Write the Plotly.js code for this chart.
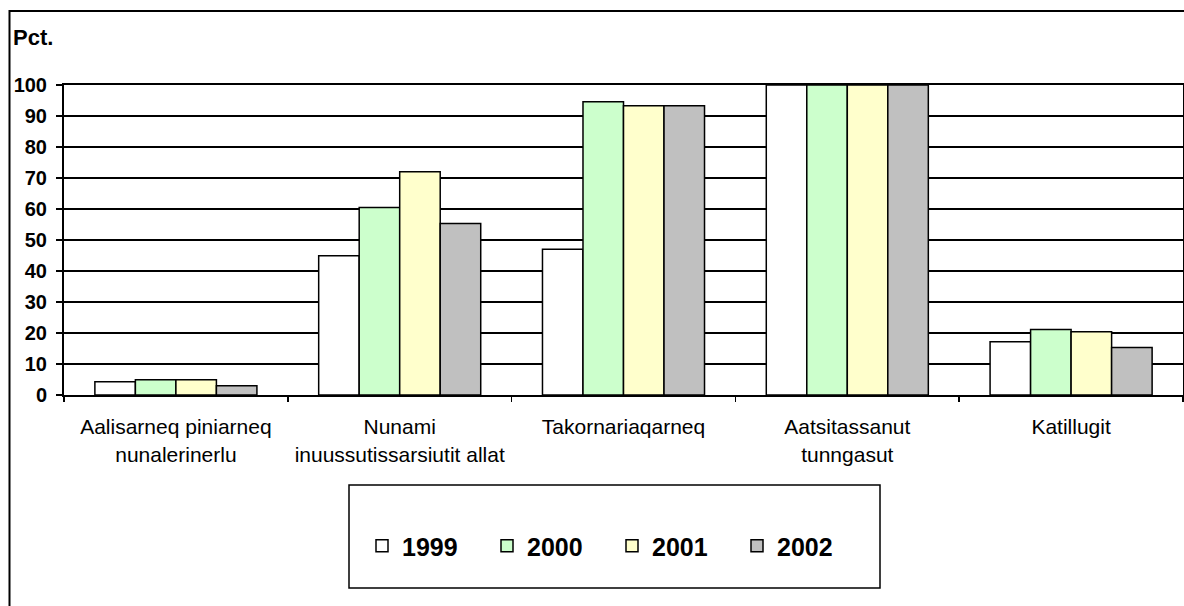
<!DOCTYPE html>
<html>
<head>
<meta charset="utf-8">
<script src="https://cdn.plot.ly/plotly-3.0.1.min.js"></script>
<style>
  html, body { margin: 0; padding: 0; background: #fff; }
  #chart { width: 1184px; height: 606px; }
</style>
</head>
<body>
<div id="chart"></div>
<script>
const categories = [
  "Aalisarneq piniarneq<br>nunalerinerlu",
  "Nunami<br>inuussutissarsiutit allat",
  "Takornariaqarneq",
  "Aatsitassanut<br>tunngasut",
  "Katillugit"
];
const years = ["1999", "2000", "2001", "2002"];
const v1999 = [4.3, 44.9, 47.0, 100, 17.2];
const v2000 = [4.9, 60.5, 94.6, 100, 21.1];
const v2001 = [4.9, 72.0, 93.3, 100, 20.4];
const v2002 = [3.0, 55.3, 93.3, 100, 15.3];
const yTicks = [0, 10, 20, 30, 40, 50, 60, 70, 80, 90, 100];
const colors = ["#FFFFFF", "#CCFFCC", "#FFFFCC", "#C0C0C0"];

const series = [v1999, v2000, v2001, v2002];
const traces = series.map((vals, i) => ({
  type: "bar",
  name: years[i],
  x: categories,
  y: vals,
  marker: { color: colors[i], line: { color: "#000000", width: 1.5 } },
  hoverinfo: "x+y+name"
}));

// plot area geometry in pixels
const L = 64, R = 1183, T = 85, B = 395;
const W = R - L, H = B - T;
const px = x => (x - L) / W;
const py = y => (B - y) / H;

const layout = {
  width: 1184,
  height: 606,
  margin: { l: L, r: 1184 - R, t: T, b: 606 - B, pad: 0 },
  paper_bgcolor: "#FFFFFF",
  plot_bgcolor: "#FFFFFF",
  font: { family: "Liberation Sans, Arial, sans-serif", color: "#000000" },
  barmode: "group",
  bargap: 0.276,
  bargroupgap: 0,
  showlegend: true,
  legend: {
    orientation: "h",
    x: px(362), xanchor: "left",
    y: py(546), yanchor: "middle",
    bgcolor: "rgba(0,0,0,0)",
    borderwidth: 0,
    font: { size: 25, family: "Liberation Sans, Arial, sans-serif", weight: "bold" },
    entrywidth: 80,
    entrywidthmode: "pixels",
    traceorder: "normal"
  },
  xaxis: {
    type: "category",
    showgrid: false,
    showline: true,
    linecolor: "#000000",
    linewidth: 2,
    mirror: true,
    ticks: "outside",
    tickson: "boundaries",
    ticklen: 5,
    tickwidth: 1.5,
    tickcolor: "#000000",
    ticklabelstandoff: 12,
    tickfont: { size: 21, family: "Liberation Sans, Arial, sans-serif" },
    fixedrange: true
  },
  yaxis: {
    range: [0, 100],
    tickvals: yTicks,
    ticktext: yTicks.map(String),
    showgrid: true,
    gridcolor: "#000000",
    gridwidth: 1.2,
    zeroline: false,
    showline: true,
    linecolor: "#000000",
    linewidth: 2,
    mirror: true,
    ticks: "outside",
    ticklen: 6,
    tickwidth: 1.5,
    tickcolor: "#000000",
    ticklabelstandoff: 5,
    tickfont: { size: 20, family: "Liberation Sans, Arial, sans-serif", weight: "bold" },
    fixedrange: true
  },
  annotations: [{
    text: "Pct.",
    xref: "paper", yref: "paper",
    x: px(11), xanchor: "left",
    y: py(37), yanchor: "middle",
    showarrow: false,
    font: { size: 22, family: "Liberation Sans, Arial, sans-serif", weight: "bold" }
  }],
  shapes: [
    {
      type: "rect", xref: "paper", yref: "paper", layer: "below",
      x0: px(9.5), x1: px(1195), y0: py(615), y1: py(11),
      line: { color: "#000000", width: 2 }, fillcolor: "rgba(0,0,0,0)"
    },
    {
      type: "rect", xref: "paper", yref: "paper", layer: "below",
      x0: px(349), x1: px(880), y0: py(588), y1: py(485),
      line: { color: "#000000", width: 1.5 }, fillcolor: "#FFFFFF"
    }
  ]
};

Plotly.newPlot("chart", traces, layout, { displayModeBar: false, staticPlot: true });
</script>
</body>
</html>
